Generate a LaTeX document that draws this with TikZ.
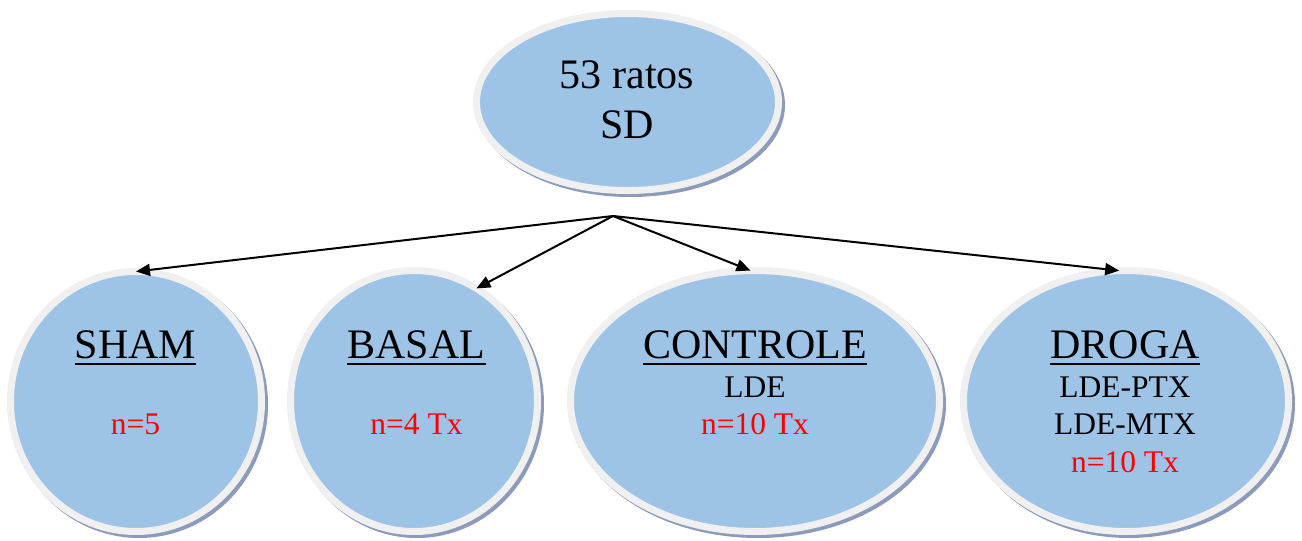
\documentclass[tikz,border=0pt]{standalone}
\usepackage{fontspec}
\setmainfont{Liberation Serif}
\usetikzlibrary{shapes.geometric,arrows.meta}
\definecolor{bubblefill}{HTML}{9DC3E6}
\definecolor{bubblerim}{HTML}{F0F0F0}
\definecolor{bubbleshade}{HTML}{8C9BBA}
\definecolor{countred}{HTML}{FF0000}
\tikzset{
  bubble/.style={ellipse, inner sep=0pt, outer sep=0pt,
    fill=bubblefill, draw=bubblerim, line width=7pt,
    preaction={draw=bubbleshade, fill=bubbleshade,
      transform canvas={xshift=3pt, yshift=-3pt}}},
  bigtxt/.style={anchor=base, inner sep=0pt, font=\fontsize{42}{48}\selectfont},
  smalltxt/.style={anchor=base, inner sep=0pt, font=\fontsize{31.5}{36}\selectfont},
  redtxt/.style={smalltxt, text=countred},
  uline/.style={line width=2pt},
  link/.style={line width=2pt, -{Triangle[length=14pt,width=12pt]}}
}
\begin{document}
\begin{tikzpicture}[x=1pt,y=-1pt]
  \useasboundingbox (0,0) rectangle (1302,541);

  % ellipses
  \node[bubble, minimum width=302pt, minimum height=177pt] (top) at (627.5,102) {};
  \node[bubble, minimum width=251pt, minimum height=260pt] (sham) at (136,401.5) {};
  \node[bubble, minimum width=247pt, minimum height=261pt] (basal) at (414,401) {};
  \node[bubble, minimum width=369pt, minimum height=261pt] (controle) at (755,401) {};
  \node[bubble, minimum width=325pt, minimum height=261pt] (droga) at (1126,401) {};

  % root label
  \node[bigtxt] (topA) at (627,88) {53 ratos};
  \node[bigtxt] (topB) at (627,138) {SD};

  % group titles (underlined)
  \node[bigtxt] (shamT) at (135.5,358) {SHAM};
  \node[bigtxt] (basalT) at (416.5,358) {BASAL};
  \node[bigtxt] (controleT) at (755,358) {CONTROLE};
  \node[bigtxt] (drogaT) at (1125,358) {DROGA};
  \foreach \t in {shamT,basalT,controleT,drogaT}
    \draw[uline] ([yshift=-6pt]\t.base west) -- ([yshift=-6pt]\t.base east);

  % group details
  \node[redtxt] (shamN) at (135.5,434) {n=5};
  \node[redtxt] (basalN) at (416.5,434) {n=4 Tx};
  \node[smalltxt] (controleL) at (755,397) {LDE};
  \node[redtxt] (controleN) at (755,434) {n=10 Tx};
  \node[smalltxt] (drogaP) at (1125,397) {LDE-PTX};
  \node[smalltxt] (drogaM) at (1125,434) {LDE-MTX};
  \node[redtxt] (drogaN) at (1125,472) {n=10 Tx};

  % connectors
  \coordinate (hub) at (613,216);
  \draw[link] (hub) -- (sham.north);
  \draw[link] (hub) -- (basal.61);
  \draw[link] (hub) -- (controle.92);
  \draw[link] (hub) -- (droga.93);
\end{tikzpicture}
\end{document}
